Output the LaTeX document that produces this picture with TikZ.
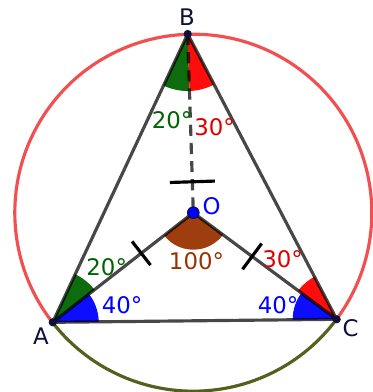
\documentclass[tikz,border=0pt]{standalone}
\usepackage{fontspec}
\setmainfont{DejaVu Sans}
\usetikzlibrary{calc}
\definecolor{circred}{RGB}{242,80,80}
\definecolor{olivearc}{RGB}{85,95,30}
\definecolor{ggreen}{RGB}{0,100,0}
\definecolor{gred}{RGB}{255,0,0}
\definecolor{gblue}{RGB}{0,0,255}
\definecolor{gbrown}{RGB}{153,51,0}
\definecolor{navy}{RGB}{15,15,60}
\tikzset{
  seg/.style={black,opacity=0.72,line width=2.7pt},
  tickmark/.style={black,line width=2.7pt},
  arcline/.style={line width=2.7pt},
  sect/.style={opacity=0.95},
  lbl/.style={font=\fontsize{19.5}{22}\selectfont,inner sep=0pt},
  vdot/.style={circle,fill=navy,inner sep=0pt,minimum size=7pt},
}
\begin{document}
\begin{tikzpicture}[x=0.03cm,y=0.03cm]
\useasboundingbox (0,0) rectangle (373,392);
\coordinate (A) at (52.7,69.7);
\coordinate (B) at (187.7,358);
\coordinate (C) at (336.7,72.7);
\coordinate (O) at (193.3,179.3);
% circle arcs
\draw[arcline,circred] (O) ++(-36.6:178.5) arc (-36.6:217.9:178.5);
\draw[arcline,olivearc] (O) ++(217.9:178.5) arc (217.9:323.4:178.5);
% sectors
\fill[sect,ggreen] (B) -- ++(244.9:57) arc (244.9:271.8:57) -- cycle;
\fill[sect,gred] (B) -- ++(271.8:57) arc (271.8:297.6:57) -- cycle;
\fill[sect,ggreen] (A) -- ++(37.9:53) arc (37.9:64.9:53) -- cycle;
\fill[sect,gblue] (A) -- ++(0.6:46) arc (0.6:37.9:46) -- cycle;
\fill[sect,gred] (C) -- ++(117.6:48) arc (117.6:143.4:48) -- cycle;
\fill[sect,gblue] (C) -- ++(143.4:44) arc (143.4:180.6:44) -- cycle;
\fill[sect,gbrown] (O) -- ++(217.9:37) arc (217.9:323.4:37) -- cycle;
% segments
\draw[seg] (A) -- (B) -- (C) -- cycle;
\draw[seg] (O) -- (A);
\draw[seg] (O) -- (C);
\draw[seg,dash pattern=on 9.5pt off 6pt] (B) -- (O);
% tick marks
\coordinate (TB) at ($(O)!0.173!(B)$);
\coordinate (TA) at ($(O)!0.37!(A)$);
\coordinate (TC) at ($(O)!0.41!(C)$);
\draw[tickmark] ($(TB)!0.675cm!90:(B)$) -- ($(TB)!0.675cm!-90:(B)$);
\draw[tickmark] ($(TA)!0.45cm!90:(A)$) -- ($(TA)!0.45cm!-90:(A)$);
\draw[tickmark] ($(TC)!0.48cm!90:(C)$) -- ($(TC)!0.48cm!-90:(C)$);
% points
\node[vdot] (pA) at (A) {};
\node[vdot] (pB) at (B) {};
\node[vdot] (pC) at (C) {};
\node[circle,fill=gblue,draw=navy,line width=0.8pt,inner sep=0pt,minimum size=10pt] (pO) at (O) {};
% labels
\node[lbl,navy] (lB) at (187,374.5) {B};
\node[lbl,navy] (lA) at (41,56) {A};
\node[lbl,navy] (lC) at (350.5,64) {C};
\node[lbl,gblue] (lO) at (211.7,186) {O};
\node[lbl,ggreen] (aB1) at (172,272) {20°};
\node[lbl,gred!88!black] (aB2) at (214.5,265) {30°};
\node[lbl,ggreen] (aA1) at (106.7,125) {20°};
\node[lbl,gblue] (aA2) at (122,87) {40°};
\node[lbl,gbrown] (aO) at (196.5,131) {100°};
\node[lbl,gred!88!black] (aC1) at (282.5,133) {30°};
\node[lbl,gblue] (aC2) at (278,87) {40°};
\end{tikzpicture}
\end{document}
